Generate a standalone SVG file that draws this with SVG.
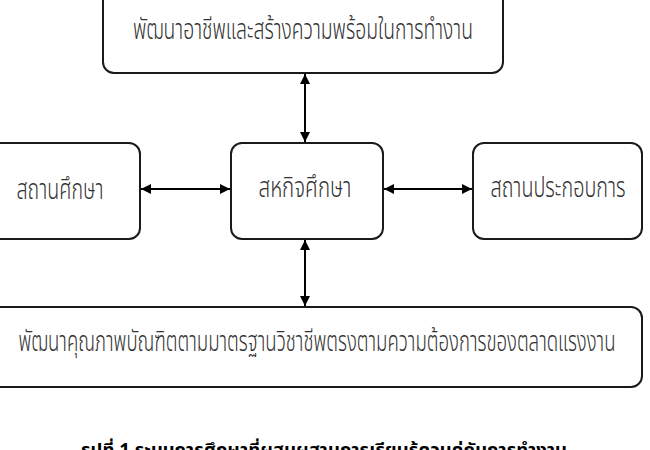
<svg xmlns="http://www.w3.org/2000/svg" width="650" height="450" viewBox="0 0 650 450">
<style>
.box{fill:#fff;stroke:#1a1a1a;stroke-width:2}
.lbl{font-family:"Noto Sans Thai","Noto Sans","DejaVu Sans",sans-serif;font-size:28px;font-weight:300;fill:#333;text-anchor:middle}
.cap{font-family:"Noto Sans Thai","Noto Sans","DejaVu Sans",sans-serif;font-size:17px;font-weight:bold;fill:#000}
.con{stroke:#000;stroke-width:2;fill:none;marker-start:url(#ah);marker-end:url(#ah)}
</style>
<defs>
<marker id="ah" viewBox="0 0 10 10" refX="10" refY="5" markerWidth="6.5" markerHeight="5" orient="auto-start-reverse" markerUnits="strokeWidth">
<path d="M0,0 L10,5 L0,10 Z" fill="#000"/>
</marker>
</defs>
<rect width="650" height="450" fill="#fff"/>
<g id="n-career">
<rect class="box" x="103" y="-12" width="400" height="85" rx="11"/>
<text class="lbl" x="303" y="39" textLength="340" lengthAdjust="spacingAndGlyphs">พัฒนาอาชีพและสร้างความพร้อมในการทำงาน</text>
</g>
<g id="n-school">
<rect class="box" x="-12" y="143" width="152" height="96" rx="11"/>
<text class="lbl" x="60" y="199" textLength="87" lengthAdjust="spacingAndGlyphs">สถานศึกษา</text>
</g>
<g id="n-coop">
<rect class="box" x="231" y="143" width="152" height="96" rx="11"/>
<text class="lbl" x="305" y="197" textLength="93" lengthAdjust="spacingAndGlyphs">สหกิจศึกษา</text>
</g>
<g id="n-business">
<rect class="box" x="473" y="143" width="169" height="96" rx="11"/>
<text class="lbl" x="558" y="197" textLength="135" lengthAdjust="spacingAndGlyphs">สถานประกอบการ</text>
</g>
<g id="n-quality">
<rect class="box" x="-12" y="307" width="654" height="80" rx="11"/>
<text class="lbl" x="317" y="351" textLength="597" lengthAdjust="spacingAndGlyphs">พัฒนาคุณภาพบัณฑิตตามมาตรฐานวิชาชีพตรงตามความต้องการของตลาดแรงงาน</text>
</g>
<g id="connectors">
<line class="con" x1="305" y1="74" x2="305" y2="142"/>
<line class="con" x1="305" y1="240" x2="305" y2="306"/>
<line class="con" x1="141" y1="189" x2="230" y2="189"/>
<line class="con" x1="384" y1="189" x2="472" y2="189"/>
</g>
<text class="cap" x="81" y="456" textLength="486" lengthAdjust="spacingAndGlyphs">รูปที่ 1 ระบบการศึกษาที่ผสมผสานการเรียนรู้ควบคู่กับการทำงาน</text>
</svg>
